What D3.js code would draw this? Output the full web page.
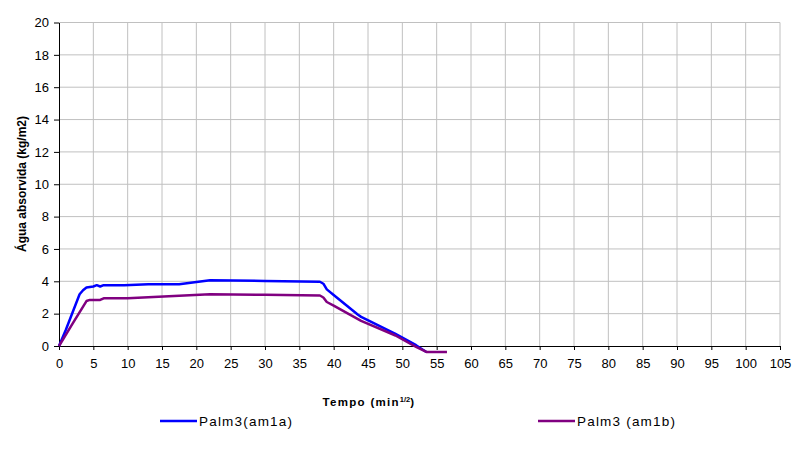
<!DOCTYPE html>
<html><head><meta charset="utf-8">
<script src="https://cdn.jsdelivr.net/npm/d3@7"></script>
<style>body{margin:0;background:#fff}svg{display:block;font-family:"Liberation Sans",Arial,sans-serif}</style>
</head><body><svg id="c" width="793" height="454"></svg>
<script>
const xTicks = d3.range(0, 106, 5);
const yTicks = d3.range(0, 21, 2);
const seriesNames = ["Palm3(am1a)", "Palm3 (am1b)"];
const seriesColors = ["#0000ff", "#800080"];
const blueX = [0, 1.0, 2.0, 3.0, 3.5, 4.0, 5.0, 5.5, 6.0, 6.5, 9.5, 13, 17.5, 22, 30, 38, 38.5, 39, 40, 43.5, 44, 49, 52, 53.5];
const blueY = [0, 1.0, 2.1, 3.2, 3.45, 3.62, 3.68, 3.76, 3.68, 3.76, 3.75, 3.82, 3.82, 4.07, 4.02, 3.97, 3.85, 3.5, 3.15, 1.95, 1.8, 0.75, 0.05, -0.37];
const purpleX = [0, 2.0, 4.0, 4.5, 6.0, 6.5, 10, 17.5, 22, 30, 38, 38.5, 39, 40, 44, 49, 52, 53.5, 56.5];
const purpleY = [0, 1.4, 2.78, 2.85, 2.85, 2.95, 2.95, 3.1, 3.2, 3.17, 3.12, 3.0, 2.72, 2.5, 1.55, 0.65, -0.05, -0.37, -0.37];

const svg = d3.select("#c");
const x = d3.scaleLinear().domain([0, 105]).range([59, 780]);
const y = d3.scaleLinear().domain([0, 20]).range([346, 22.5]);

// grid
svg.append("g").selectAll("line").data(xTicks.filter(d => d > 0)).join("line")
  .attr("x1", d => x(d)).attr("x2", d => x(d)).attr("y1", y(0)).attr("y2", y(20))
  .attr("stroke", "#c0c0c0").attr("stroke-width", 1);
svg.append("g").selectAll("line").data(yTicks.filter(d => d > 0)).join("line")
  .attr("x1", x(0)).attr("x2", x(105)).attr("y1", d => y(d)).attr("y2", d => y(d))
  .attr("stroke", "#c0c0c0").attr("stroke-width", 1);

// axes
const xAxis = svg.append("g").attr("transform", `translate(0,${y(0)})`)
  .call(d3.axisBottom(x).tickValues(xTicks).tickSize(4).tickPadding(9).tickSizeOuter(0));
const yAxis = svg.append("g").attr("transform", `translate(${x(0)},0)`)
  .call(d3.axisLeft(y).tickValues(yTicks).tickSize(5).tickPadding(5).tickSizeOuter(0));
[xAxis, yAxis].forEach(a => {
  a.selectAll("path,line").attr("stroke", "#000");
  a.selectAll("text").attr("font-size", 13).attr("fill", "#000").attr("font-family", '"Liberation Sans",Arial,sans-serif');
});

// lines
const line = d3.line().x(d => x(d[0])).y(d => y(d[1]));
const data = [d3.zip(blueX, blueY), d3.zip(purpleX, purpleY)];
svg.append("g").selectAll("path").data(data).join("path")
  .attr("d", line).attr("fill", "none")
  .attr("stroke", (d, i) => seriesColors[i]).attr("stroke-width", 2.5)
  .attr("stroke-linejoin", "round");

// axis titles
const xt = svg.append("text").attr("x", 369).attr("y", 406).attr("text-anchor", "middle")
  .attr("font-size", 11.5).attr("font-weight", "bold").attr("letter-spacing", 1.3);
xt.append("tspan").text("Tempo (min");
xt.append("tspan").text("1/2").attr("font-size", 7.5).attr("dy", -4).attr("letter-spacing", 0);
xt.append("tspan").text(")").attr("dy", 4);

svg.append("text").attr("transform", "translate(26,184) rotate(-90)")
  .attr("text-anchor", "middle").attr("font-size", 12).attr("font-weight", "bold")
  .text("Água absorvida (kg/m2)");

// legend
const legX = [160, 538];
const leg = svg.append("g").selectAll("g").data(seriesNames).join("g")
  .attr("transform", (d, i) => `translate(${legX[i]},421)`);
leg.append("line").attr("x1", 0).attr("x2", 37).attr("y1", 0).attr("y2", 0)
  .attr("stroke", (d, i) => seriesColors[i]).attr("stroke-width", 2.5);
leg.append("text").attr("x", 39).attr("y", 5).attr("font-size", 13.5).attr("letter-spacing", 1.2).text(d => d);
</script></body></html>
